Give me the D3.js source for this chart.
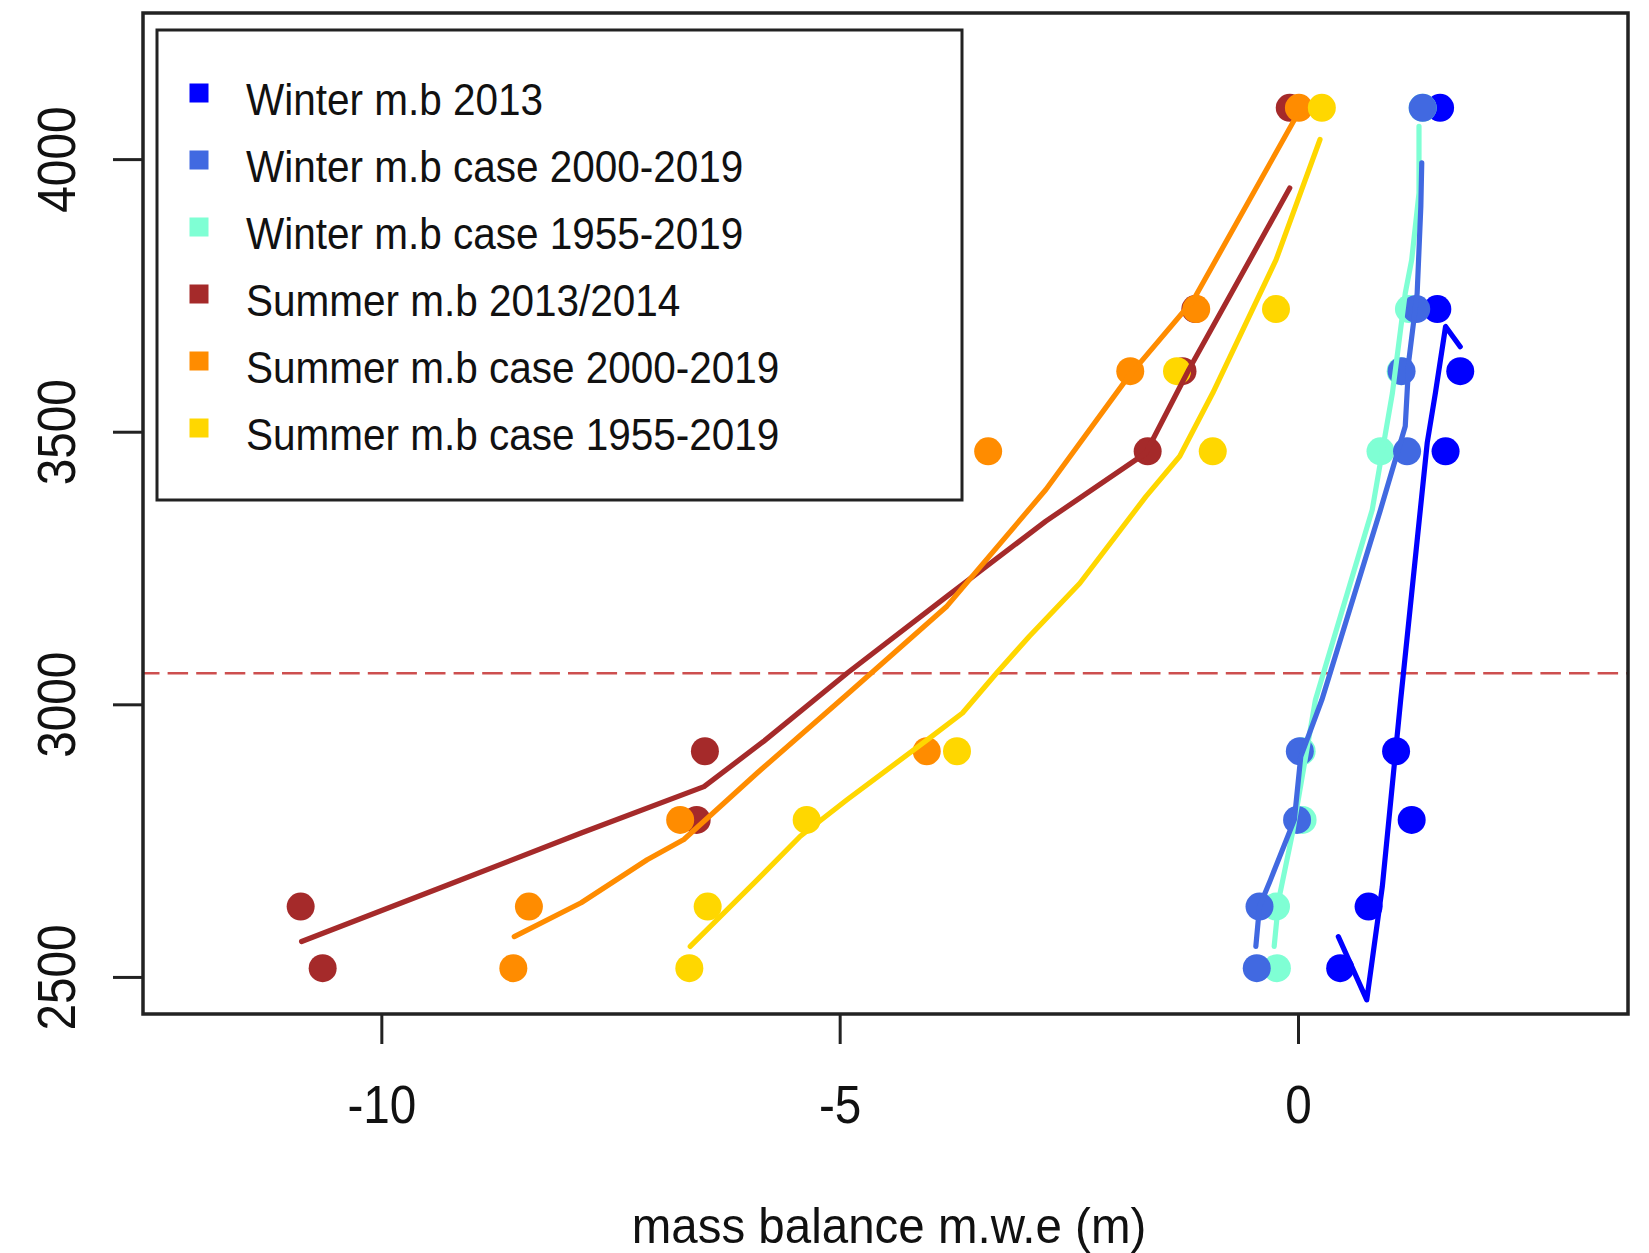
<!DOCTYPE html>
<html>
<head>
<meta charset="utf-8">
<script src="https://cdn.jsdelivr.net/npm/d3@7"></script>
<style>
  html, body { margin: 0; padding: 0; background: #ffffff; }
  svg { display: block; }
  text { font-family: "Liberation Sans", Arial, sans-serif; fill: #111; }
</style>
</head>
<body>
<script>
// Stake elevations (m a.s.l.) where the point balances were measured / modelled
const elevations = [4094, 3725, 3611, 3464, 2914, 2788, 2629, 2516];

// Point mass balance (m w.e.) per stake
const winter2013      = [1.55, 1.52, 1.77, 1.61, 1.07, 1.24, 0.77, 0.46];
const winterCase2000  = [1.36, 1.29, 1.13, 1.19, 0.02, -0.01, -0.42, -0.45];
const winterCase1955  = [1.36, 1.21, 1.12, 0.90, 0.04, 0.05, -0.24, -0.23];
const summer2013      = [-0.09, -1.12, -1.26, -1.64, -6.47, -6.56, -10.88, -10.64];
const summerCase2000  = [0.01, -1.11, -1.83, -3.38, -4.05, -6.74, -8.39, -8.56];
const summerCase1955  = [0.26, -0.24, -1.32, -0.93, -3.72, -5.36, -6.44, -6.64];

// Fitted balance profiles: [mass balance, elevation] vertices
const fitWinter2013 = [[1.77, 3656], [1.61, 3693], [1.50, 3572], [1.41, 3480], [1.12, 3008],
  [0.92, 2666], [0.75, 2458], [0.44, 2574]];
const fitWinterCase2000 = [[1.35, 3993], [1.34, 3913], [1.30, 3754], [1.21, 3632], [1.17, 3510],
  [0.90, 3357], [0.26, 3008], [0.03, 2904], [-0.04, 2788], [-0.30, 2678], [-0.42, 2629], [-0.46, 2556]];
const fitWinterCase1955 = [[1.32, 4060], [1.32, 3938], [1.24, 3815], [1.17, 3754], [1.03, 3571],
  [0.81, 3357], [0.19, 3008], [-0.06, 2764], [-0.21, 2642], [-0.26, 2556]];
const fitSummer2013 = [[-10.87, 2565], [-9.27, 2669], [-7.82, 2764], [-6.48, 2849], [-5.83, 2932],
  [-4.92, 3057], [-3.83, 3198], [-2.75, 3336], [-1.66, 3461], [-1.19, 3614], [-0.09, 3947]];
const fitSummerCase2000 = [[-8.55, 2574], [-7.82, 2636], [-7.10, 2715], [-6.70, 2752], [-5.90, 2874],
  [-4.92, 3018], [-3.83, 3180], [-2.75, 3394], [-1.85, 3601], [-1.14, 3742], [-0.01, 4081]];
const fitSummerCase1955 = [[-6.63, 2556], [-5.90, 2678], [-5.43, 2758], [-4.92, 2825], [-4.02, 2938],
  [-3.66, 2984], [-3.29, 3057], [-2.93, 3125], [-2.38, 3222], [-1.66, 3381], [-1.29, 3455],
  [-0.93, 3571], [-0.24, 3815], [0.24, 4036]];

// Equilibrium line altitude
const elaElevation = 3057;

// Legend entries and axis ticks
const legendLabels = ["Winter m.b 2013", "Winter m.b case 2000-2019", "Winter m.b case 1955-2019",
  "Summer m.b 2013/2014", "Summer m.b case 2000-2019", "Summer m.b case 1955-2019"];
const seriesColors = ["#0000FF", "#4169E1", "#7FFFD4", "#A52A2A", "#FF8C00", "#FFD700"];
const xTicks = [-10, -5, 0];
const yTicks = [2500, 3000, 3500, 4000];
const xTitle = "mass balance m.w.e (m)";

const pointSeries = [winter2013, winterCase2000, winterCase1955, summer2013, summerCase2000, summerCase1955];
const fitSeries = [fitWinter2013, fitWinterCase2000, fitWinterCase1955, fitSummer2013, fitSummerCase2000, fitSummerCase1955];
// drawing order of the series (later ones on top)
const drawOrder = [0, 2, 1, 3, 4, 5];

const W = 1649, H = 1253;
const plot = { left: 143, right: 1628, top: 13, bottom: 1014 };

const svg = d3.select("body").append("svg")
  .attr("width", W).attr("height", H)
  .attr("viewBox", `0 0 ${W} ${H}`);
svg.append("rect").attr("width", W).attr("height", H).attr("fill", "#fff");

// R-style ranges: limits extended by 4 % on each side
const xLim = [-12, 3], yLim = [2500, 4200];
const pad = (l) => { const d = (l[1] - l[0]) * 0.04; return [l[0] - d, l[1] + d]; };
const x = d3.scaleLinear().domain(pad(xLim)).range([plot.left, plot.right]);
const y = d3.scaleLinear().domain(pad(yLim)).range([plot.bottom, plot.top]);

const defs = svg.append("defs");
defs.append("clipPath").attr("id", "plotClip").append("rect")
  .attr("x", plot.left).attr("y", plot.top)
  .attr("width", plot.right - plot.left).attr("height", plot.bottom - plot.top);

const layer = svg.append("g").attr("clip-path", "url(#plotClip)");

// ELA reference line
layer.append("line")
  .attr("x1", plot.left - 4).attr("x2", plot.right)
  .attr("y1", y(elaElevation)).attr("y2", y(elaElevation))
  .attr("stroke", "#CD4F4F").attr("stroke-width", 2.5)
  .attr("stroke-dasharray", "20.5,8.1");

// Measured / modelled points
drawOrder.forEach(si => {
  layer.append("g").selectAll("circle")
    .data(pointSeries[si].map((v, i) => [v, elevations[i]]))
    .join("circle")
    .attr("cx", d => x(d[0])).attr("cy", d => y(d[1]))
    .attr("r", 14).attr("fill", seriesColors[si]);
});

// Fitted profiles
const line = d3.line().x(d => x(d[0])).y(d => y(d[1]));
drawOrder.forEach(si => {
  layer.append("path")
    .attr("d", line(fitSeries[si]))
    .attr("fill", "none")
    .attr("stroke", seriesColors[si])
    .attr("stroke-width", 5.2)
    .attr("stroke-linejoin", "round")
    .attr("stroke-linecap", "round");
});

// Axes
const xAxis = svg.append("g").attr("transform", `translate(0,${plot.bottom})`)
  .call(d3.axisBottom(x).tickValues(xTicks).tickSize(30).tickFormat(d3.format("d")));
xAxis.select(".domain").remove();
xAxis.selectAll(".tick line").attr("stroke", "#222").attr("stroke-width", 3);
xAxis.selectAll(".tick text")
  .attr("y", null).attr("dy", null).attr("x", null)
  .attr("transform", "translate(0,109) scale(0.9,1)")
  .attr("font-size", 53).attr("fill", "#111")
  .attr("font-family", "Liberation Sans, Arial, sans-serif")
  .text(d => d3.format("d")(d).replace("\u2212", "-"));

const yAxis = svg.append("g").attr("transform", `translate(${plot.left},0)`)
  .call(d3.axisLeft(y).tickValues(yTicks).tickSize(30).tickFormat(d3.format("d")));
yAxis.select(".domain").remove();
yAxis.selectAll(".tick line").attr("stroke", "#222").attr("stroke-width", 3);
yAxis.selectAll(".tick text")
  .attr("x", null).attr("dy", null)
  .attr("text-anchor", "middle")
  .attr("transform", "translate(-68,0) rotate(-90) scale(0.9,1)")
  .attr("font-size", 53).attr("fill", "#111")
  .attr("font-family", "Liberation Sans, Arial, sans-serif");

// Plot frame
svg.append("rect")
  .attr("x", plot.left).attr("y", plot.top)
  .attr("width", plot.right - plot.left).attr("height", plot.bottom - plot.top)
  .attr("fill", "none").attr("stroke", "#222").attr("stroke-width", 3.5);

// Axis title
svg.append("text")
  .attr("transform", "translate(889,1243) scale(0.95,1)")
  .attr("text-anchor", "middle")
  .attr("font-size", 50)
  .text(xTitle);

// Legend
const legend = svg.append("g");
legend.append("rect")
  .attr("x", 157).attr("y", 30).attr("width", 962 - 157).attr("height", 500 - 30)
  .attr("fill", "#fff").attr("stroke", "#222").attr("stroke-width", 3);
legendLabels.forEach((label, i) => {
  const cy = 93 + 67 * i;
  legend.append("rect")
    .attr("x", 189.5).attr("y", cy - 9.5).attr("width", 19).attr("height", 19)
    .attr("fill", seriesColors[i]);
  legend.append("text")
    .attr("transform", `translate(246,${cy + 22}) scale(0.9,1)`)
    .attr("font-size", 45)
    .text(label);
});
</script>
</body>
</html>
